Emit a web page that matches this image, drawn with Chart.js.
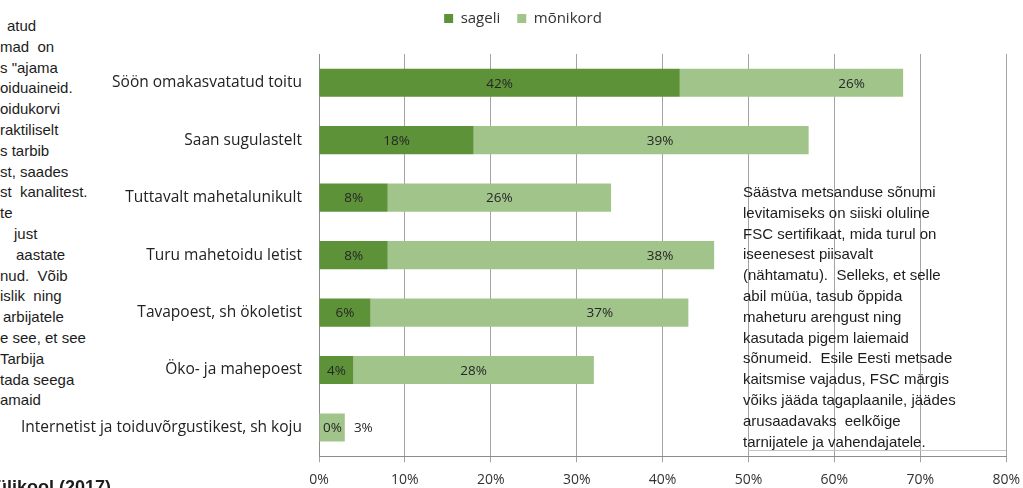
<!DOCTYPE html>
<html>
<head>
<meta charset="utf-8">
<script src="https://cdn.jsdelivr.net/npm/chart.js@4.4.0/dist/chart.umd.min.js"></script>
<style>
body { margin: 0; background: #fff; }
#wrap { position: relative; width: 1023px; height: 488px; overflow: hidden; }
#chartBox { position: absolute; left: 0; top: 0; width: 1029px; height: 488px; }
.txt { position: absolute; font-family: "Liberation Sans", Arial, sans-serif; font-size: 15px; color: #1c1c1c; line-height: 20.8px; }
.txt div { position: relative; white-space: pre; height: 20.8px; }
#foot { position: absolute; left: -4px; top: 477px; font: bold 18px "Liberation Sans", Arial, sans-serif; color: #1c1c1c; white-space: pre; }
#boxLine { position: absolute; left: 748px; top: 450px; width: 258px; border-top: 1px solid #c4c4c4; }
</style>
</head>
<body>
<div id="wrap">
  <div class="txt" id="leftText" style="left:0; top:16px;"><div style="left:7px">atud</div><div>mad  on</div><div>s "ajama</div><div>oiduaineid.</div><div>oidukorvi</div><div>raktiliselt</div><div>s tarbib</div><div>st, saades</div><div>st  kanalitest.</div><div>te</div><div style="left:14px">just</div><div style="left:16px">aastate</div><div>nud.  Võib</div><div>islik  ning</div><div style="left:3px">arbijatele</div><div>e see, et see</div><div>Tarbija</div><div>tada seega</div><div>amaid</div></div>
  <div id="chartBox"><canvas id="chart"></canvas></div>
  <div class="txt" id="boxText" style="left:743px; top:182px;"><div>Säästva metsanduse sõnumi</div><div>levitamiseks on siiski oluline</div><div>FSC sertifikaat, mida turul on</div><div>iseenesest piisavalt</div><div>(nähtamatu).  Selleks, et selle</div><div>abil müüa, tasub õppida</div><div>maheturu arengust ning</div><div>kasutada pigem laiemaid</div><div>sõnumeid.  Esile Eesti metsade</div><div>kaitsmise vajadus, FSC märgis</div><div>võiks jääda tagaplaanile, jäädes</div><div>arusaadavaks  eelkõige</div><div>tarnijatele ja vahendajatele.</div></div>
  <div id="boxLine"></div>
  <div id="foot">ülikool (2017)</div>
</div>
<script>
// data
const categories = [
    'Söön omakasvatatud toitu',
    'Saan sugulastelt',
    'Tuttavalt mahetalunikult',
    'Turu mahetoidu letist',
    'Tavapoest, sh ökoletist',
    'Öko- ja mahepoest',
    'Internetist ja toiduvõrgustikest, sh koju'
];
const sageli = [42, 18, 8, 8, 6, 4, 0];
const monikord = [26, 39, 26, 38, 37, 28, 3];
const seriesNames = ['sageli', 'mõnikord'];
const xMin = 0;
const xMax = 80;
const xStep = 10;

// where the original chart had its value labels dragged (axis units), null = centred
const labelAt = [
    [null, null, null, null, null, null, null],
    [62, 39.7, null, 39.7, 32.7, null, null]
];

const font = 'Open Sans';

// value labels inside the bars
const barLabels = {
    id: 'barLabels',
    afterDatasetsDraw(chart) {
        const ctx = chart.ctx;
        const xs = chart.scales.x;
        ctx.save();
        ctx.font = '13.5px "' + font + '"';
        ctx.fillStyle = '#262626';
        ctx.textAlign = 'center';
        ctx.textBaseline = 'middle';
        categories.forEach((c, i) => {
            let prevRight = xs.getPixelForValue(0) + 4;
            let gap = 0;
            chart.data.datasets.forEach((ds, d) => {
                const el = chart.getDatasetMeta(d).data[i];
                const txt = ds.data[i] + '%';
                const w = ctx.measureText(txt).width;
                let cx = (el.base + el.x) / 2;
                if (labelAt[d][i] != null) cx = xs.getPixelForValue(labelAt[d][i]);
                cx = Math.max(cx, prevRight + gap + w / 2);
                ctx.fillText(txt, cx, el.y + 1);
                prevRight = cx + w / 2;
                gap = 12;
            });
        });
        ctx.restore();
    }
};

// the legend in the original sits a bit right of the page centre
const legendShift = {
    id: 'legendShift',
    afterLayout(chart) {
        chart.legend.left += 15;
        chart.legend.right += 15;
    }
};

new Chart(document.getElementById('chart'), {
    type: 'bar',
    data: {
        labels: categories,
        datasets: [
            { label: seriesNames[0], data: sageli, backgroundColor: '#5d9238', borderWidth: 0 },
            { label: seriesNames[1], data: monikord, backgroundColor: '#a1c48b', borderWidth: 0 }
        ]
    },
    options: {
        indexAxis: 'y',
        responsive: true,
        maintainAspectRatio: false,
        animation: false,
        barPercentage: 0.49,
        categoryPercentage: 1,
        layout: { padding: { top: -6, right: 17, bottom: -9, left: 4 } },
        plugins: {
            tooltip: { enabled: false },
            legend: {
                position: 'top',
                labels: {
                    boxWidth: 9,
                    boxHeight: 9,
                    padding: 17,
                    color: '#333',
                    font: { family: font, size: 15 }
                }
            },
            // empty title under the legend, only to leave the gap above the plot
            title: {
                display: true,
                text: '',
                weight: 500,
                font: { size: 10 },
                padding: { top: 3, bottom: 3 }
            }
        },
        scales: {
            x: {
                stacked: true,
                min: xMin,
                max: xMax,
                ticks: {
                    stepSize: xStep,
                    callback: v => v + '%',
                    color: '#333',
                    padding: 9,
                    font: { family: font, size: 14 }
                },
                grid: { display: true, drawOnChartArea: true, color: '#a3a3a3', tickLength: 6 },
                border: { display: true, color: '#8c8c8c' }
            },
            y: {
                stacked: true,
                grid: { display: false, drawTicks: false },
                border: { color: '#8c8c8c' },
                ticks: {
                    padding: 17,
                    color: '#222',
                    font: { family: font, size: 15.5 }
                },
                afterFit(s) { s.width = 315; }
            }
        }
    },
    plugins: [barLabels, legendShift]
});
</script>
</body>
</html>
